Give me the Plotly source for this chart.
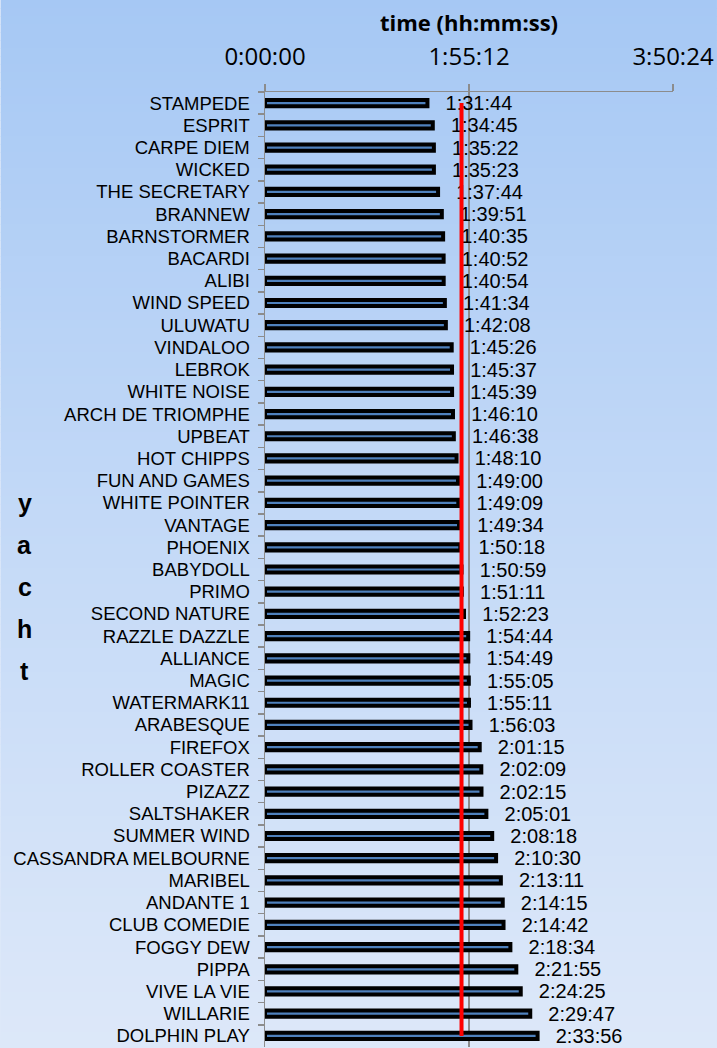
import numpy as np
import plotly.graph_objects as go

yachts = ["STAMPEDE", "ESPRIT", "CARPE DIEM", "WICKED", "THE SECRETARY", "BRANNEW",
          "BARNSTORMER", "BACARDI", "ALIBI", "WIND SPEED", "ULUWATU", "VINDALOO",
          "LEBROK", "WHITE NOISE", "ARCH DE TRIOMPHE", "UPBEAT", "HOT CHIPPS",
          "FUN AND GAMES", "WHITE POINTER", "VANTAGE", "PHOENIX", "BABYDOLL", "PRIMO",
          "SECOND NATURE", "RAZZLE DAZZLE", "ALLIANCE", "MAGIC", "WATERMARK11",
          "ARABESQUE", "FIREFOX", "ROLLER COASTER", "PIZAZZ", "SALTSHAKER",
          "SUMMER WIND", "CASSANDRA MELBOURNE", "MARIBEL", "ANDANTE 1",
          "CLUB COMEDIE", "FOGGY DEW", "PIPPA", "VIVE LA VIE", "WILLARIE",
          "DOLPHIN PLAY"]
times = ["1:31:44", "1:34:45", "1:35:22", "1:35:23", "1:37:44", "1:39:51",
         "1:40:35", "1:40:52", "1:40:54", "1:41:34", "1:42:08", "1:45:26",
         "1:45:37", "1:45:39", "1:46:10", "1:46:38", "1:48:10",
         "1:49:00", "1:49:09", "1:49:34", "1:50:18", "1:50:59", "1:51:11",
         "1:52:23", "1:54:44", "1:54:49", "1:55:05", "1:55:11",
         "1:56:03", "2:01:15", "2:02:09", "2:02:15", "2:05:01",
         "2:08:18", "2:10:30", "2:13:11", "2:14:15",
         "2:14:42", "2:18:34", "2:21:55", "2:24:25", "2:29:47",
         "2:33:56"]
tick_vals = [0, 6912, 13824]
tick_text = ["0:00:00", "1:55:12", "3:50:24"]


def to_sec(t):
    h, m, s = (int(p) for p in t.split(":"))
    return h * 3600 + m * 60 + s


secs = [to_sec(t) for t in times]
median_sec = float(np.median(secs))

W, H = 717, 1048
L, R, T, B = 264.5, 44, 92, 1
pw, ph = W - L - R, H - T - B


def py(ypx):
    return (H - B - ypx) / ph


def px(xpx):
    return (xpx - L) / pw


# background gradient
stops = [(0, (166, 200, 244)), (515, (195, 217, 247)), (H, (221, 232, 249))]


def col(y):
    for (y0, c0), (y1, c1) in zip(stops[:-1], stops[1:]):
        if y0 <= y <= y1:
            f = (y - y0) / (y1 - y0)
            return "rgb(%d,%d,%d)" % tuple(round(a + (b - a) * f) for a, b in zip(c0, c1))
    return "rgb(%d,%d,%d)" % stops[-1][1]


shapes = []
n = 131
step = H / n
for i in range(n):
    y0 = i * step
    y1 = y0 + step + 1
    shapes.append(dict(type="rect", xref="paper", yref="paper", layer="below",
                       x0=px(0), x1=px(W), y0=py(y1), y1=py(y0),
                       fillcolor=col(y0 + step / 2), line=dict(width=0)))

fig = go.Figure()
fig.add_trace(go.Bar(
    y=yachts, x=secs, orientation="h",
    width=0.28,
    marker=dict(color="#4f81bd", line=dict(color="#000000", width=4)),
    text=["\u00a0\u00a0\u2009" + t for t in times],
    textposition="outside",
    constraintext="none",
    textfont=dict(family="Liberation Sans, Arial", size=20, color="#000000"),
    cliponaxis=False,
    hoverinfo="skip",
))
fig.add_trace(go.Scatter(
    x=[median_sec, median_sec], y=[yachts[0], yachts[-1]],
    mode="lines", line=dict(color="#ff0000", width=4),
    hoverinfo="skip", cliponaxis=False,
))

annotations = [dict(text="<b>time (hh:mm:ss)</b>", xref="paper", yref="paper",
                    x=0.5, y=py(22), xanchor="center", yanchor="middle",
                    showarrow=False,
                    font=dict(family="Open Sans", size=22, color="#000000"))]
for ch, yc in zip("yacht", [503, 545, 587, 629, 671]):
    annotations.append(dict(text="<b>%s</b>" % ch, xref="paper", yref="paper",
                            x=px(24), y=py(yc), xanchor="center", yanchor="middle",
                            showarrow=False,
                            font=dict(family="Liberation Sans, Arial", size=25,
                                      color="#000000")))

fig.update_layout(
    width=W, height=H,
    margin=dict(l=L, r=R, t=T, b=B, pad=0),
    paper_bgcolor="rgb(221,232,249)",
    plot_bgcolor="rgba(0,0,0,0)",
    showlegend=False,
    bargap=0,
    shapes=shapes,
    annotations=annotations,
    xaxis=dict(
        side="top", range=[0, 13824], tickvals=tick_vals, ticktext=tick_text,
        showgrid=True, gridcolor="#8c8c8c", gridwidth=1.5,
        showline=True, linecolor="#8c8c8c", linewidth=1.5,
        ticks="outside", ticklen=7, tickcolor="#8c8c8c", tickwidth=1.5,
        ticklabelstandoff=9,
        tickfont=dict(family="Open Sans", size=24, color="#000000"),
        zeroline=False, fixedrange=True,
    ),
    yaxis=dict(
        type="category", categoryorder="array", categoryarray=yachts,
        range=[len(yachts) - 0.5, -0.5],
        tickson="boundaries", ticks="outside", ticklen=6,
        tickcolor="#8c8c8c", tickwidth=1.5,
        showline=True, linecolor="#8c8c8c", linewidth=1.5,
        showgrid=False, zeroline=False,
        ticklabelstandoff=10,
        tickfont=dict(family="Liberation Sans, Arial", size=18.5, color="#000000"),
        fixedrange=True,
    ),
)

fig.write_html(
    "out.html",
    config={"displayModeBar": False, "staticPlot": True},
    post_script="document.body.style.margin='0';document.body.style.overflow='hidden';",
)
